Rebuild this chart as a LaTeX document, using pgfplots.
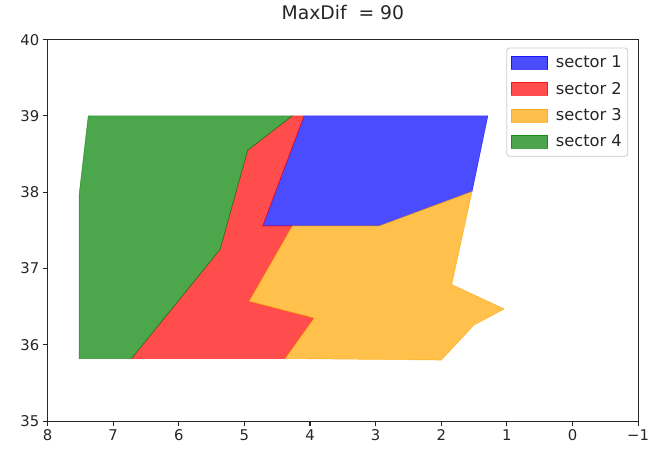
\documentclass[border=0pt]{standalone}
\usepackage{fontspec}
\setmainfont{DejaVu Sans}
\usepackage{pgfplots}
\pgfplotsset{compat=1.18}
\definecolor{mplblue}{RGB}{0,0,255}
\definecolor{mplred}{RGB}{255,0,0}
\definecolor{mplorange}{RGB}{255,165,0}
\definecolor{mplgreen}{RGB}{0,128,0}
\pgfplotsset{
  sector/.style={fill=#1, draw=#1, fill opacity=0.7, draw opacity=0.7, line width=0.5bp},
}
\begin{document}
\begin{tikzpicture}
\begin{axis}[
  name=ax,
  scale only axis,
  width=596bp, height=385bp,
  x dir=reverse,
  xmin=-1, xmax=8, ymin=35, ymax=40,
  xtick={-1,0,1,2,3,4,5,6,7,8},
  xticklabels={−1,0,1,2,3,4,5,6,7,8},
  ytick={35,36,37,38,39,40},
  /pgf/number format/assume math mode=true,
  tick label style={font=\fontsize{15}{18}\selectfont, text=black!85},
  tick align=outside, xtick pos=lower, ytick pos=left,
  major tick length=4.9bp,
  tick style={black!85, line width=1.1bp},
  axis line style={black!85, line width=1.1bp},
  title={MaxDif\ \ = 90},
  title style={at={(0.5,1)}, anchor=base, yshift=14bp,
    font=\fontsize{19}{22}\selectfont, text=black!85},
  legend style={at={(rel axis cs:1,1)}, anchor=north east,
    xshift=-10bp, yshift=-8bp,
    draw=black!20, line width=0.8bp, rounded corners=3bp,
    font=\fontsize{16.5}{19}\selectfont, text=black!85,
    row sep=9bp, column sep=6bp, inner xsep=4bp, inner ysep=6bp,
    nodes={inner sep=2bp}},
  legend cell align=left,
  legend image code/.code={\draw[#1, sharp corners] (0bp,-6.5bp) rectangle (37bp,6.5bp);},
]
% sector 1
\addplot[sector=mplblue]
  coordinates {(4.09,39) (1.29,39) (1.53,38.01) (2.94,37.56) (4.72,37.56)} -- cycle;
\addlegendentry{sector 1}
% sector 2
\addplot[sector=mplred]
  coordinates {(6.72,35.82) (4.38,35.82) (3.94,36.35) (4.93,36.57) (4.27,37.56)
               (4.72,37.56) (4.09,39) (4.27,39) (4.95,38.55) (5.37,37.25)} -- cycle;
\addlegendentry{sector 2}
% sector 3
\addplot[sector=mplorange]
  coordinates {(4.27,37.56) (2.94,37.56) (1.53,38.01) (1.84,36.79) (1.04,36.47)
               (1.50,36.26) (2.00,35.80) (4.38,35.82) (3.94,36.35) (4.93,36.57)} -- cycle;
\addlegendentry{sector 3}
% sector 4
\addplot[sector=mplgreen]
  coordinates {(7.52,35.82) (6.72,35.82) (5.37,37.25) (4.95,38.55) (4.27,39)
               (7.38,39) (7.52,37.96)} -- cycle;
\addlegendentry{sector 4}
\end{axis}
\pgfresetboundingbox
\path ([xshift=-48bp,yshift=-29bp]ax.south west)
  rectangle ([xshift=11bp,yshift=40bp]ax.north east);
\end{tikzpicture}
\end{document}
